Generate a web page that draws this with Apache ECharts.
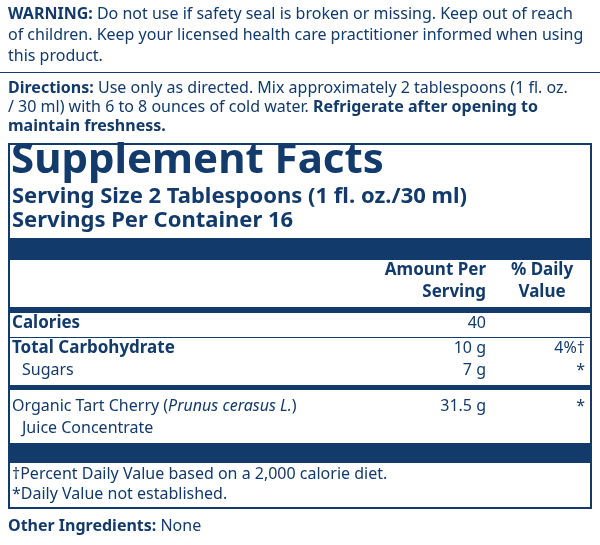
<!DOCTYPE html>
<html><head><meta charset="utf-8">
<script src="https://cdn.jsdelivr.net/npm/echarts@6/dist/echarts.min.js"></script>
<style>html,body{margin:0;padding:0;background:#fff}#c{width:600px;height:545px}</style>
</head><body><div id="c"></div>
<script>
const NAVY = '#123a6b';
const FONT = '"Noto Sans", sans-serif';

const warningLines = [
  [['b', 'WARNING:'], ['n', ' Do not use if safety seal is broken or missing. Keep out of reach']],
  [['n', 'of children. Keep your licensed health care practitioner informed when using']],
  [['n', 'this product.']]
];
const directionLines = [
  [['b', 'Directions:'], ['n', ' Use only as directed. Mix approximately 2 tablespoons (1 fl. oz.']],
  [['n', '/ 30 ml) with 6 to 8 ounces of cold water. '], ['b', 'Refrigerate after opening to']],
  [['b', 'maintain freshness.']]
];
const rowLabels = ['Calories', 'Total Carbohydrate', 'Sugars', 'Organic Tart Cherry'];
const rowAmounts = ['40', '10 g', '7 g', '31.5 g'];
const rowDV = ['', '4%\u2020', '*', '*'];
const footnotes = ['\u2020Percent Daily Value based on a 2,000 calorie diet.', '*Daily Value not established.'];

function richLine(parts, x, y, size) {
  return {
    type: 'text', left: x, top: y,
    style: {
      text: parts.map(p => '{' + p[0] + '|' + p[1] + '}').join(''),
      rich: {
        b: { fontFamily: FONT, fontSize: size, fontWeight: 'bold', fill: NAVY },
        n: { fontFamily: FONT, fontSize: size, fill: NAVY },
        i: { fontFamily: FONT, fontSize: size, fontStyle: 'italic', fill: NAVY }
      }
    }
  };
}
function txt(s, x, y, size, opts) {
  return { type: 'text', left: x, top: y, style: Object.assign({ text: s, fontFamily: FONT, fontSize: size, fill: NAVY }, opts || {}) };
}
function rtxt(s, xr, y, size, opts) {
  return { type: 'text', x: xr, y: y, style: Object.assign({ text: s, fontFamily: FONT, fontSize: size, fill: NAVY, align: 'right', verticalAlign: 'top' }, opts || {}) };
}
function ctxt(s, xc, y, size, opts) {
  return { type: 'text', x: xc, y: y, style: Object.assign({ text: s, fontFamily: FONT, fontSize: size, fill: NAVY, align: 'center', verticalAlign: 'top' }, opts || {}) };
}
function bar(y, h) {
  return { type: 'rect', shape: { x: 9, y: y, width: 582, height: h }, style: { fill: NAVY } };
}

const els = [];
warningLines.forEach((l, i) => els.push(richLine(l, 8, 6 + i * 21, 16)));
els.push({ type: 'rect', shape: { x: 0, y: 72, width: 600, height: 1 }, style: { fill: NAVY } });
directionLines.forEach((l, i) => els.push(richLine(l, 8, 80 + i * 19, 16)));
els.push({ type: 'rect', shape: { x: 9, y: 144, width: 582, height: 364 }, style: { fill: 'none', stroke: NAVY, lineWidth: 2 } });
els.push(txt('Supplement Facts', 11, 140, 42, { fontWeight: 'bold' }));
els.push(txt('Serving Size 2 Tablespoons (1 fl. oz./30 ml)', 12, 186, 22, { fontWeight: 'bold' }));
els.push(txt('Servings Per Container 16', 12, 210, 22, { fontWeight: 'bold' }));
els.push(bar(238, 22));
els.push(rtxt('Amount Per', 486, 262, 17, { fontWeight: 'bold' }));
els.push(rtxt('Serving', 486, 284, 17, { fontWeight: 'bold' }));
els.push(ctxt('% Daily', 542, 262, 17, { fontWeight: 'bold' }));
els.push(ctxt('Value', 542, 284, 17, { fontWeight: 'bold' }));
els.push(bar(307, 6));

const rowY = [315, 340, 362, 398];
rowLabels.forEach((lab, i) => {
  const bold = i < 2;
  const x = i === 2 ? 22 : 12;
  if (i === 3) {
    els.push(richLine([['n', lab + ' ('], ['i', 'Prunus cerasus L.'], ['n', ')']], x, rowY[i], 16));
    els.push(txt('Juice Concentrate', 22, rowY[i] + 22, 16));
  } else {
    els.push(txt(lab, x, rowY[i], bold ? 17 : 16, bold ? { fontWeight: 'bold' } : {}));
  }
  els.push(rtxt(rowAmounts[i], 486, rowY[i], 16));
  els.push(rtxt(rowDV[i], 585, rowY[i], 16));
});
els.push({ type: 'rect', shape: { x: 9, y: 337, width: 582, height: 1 }, style: { fill: NAVY } });
els.push(bar(385, 5));
els.push(bar(443, 20));
footnotes.forEach((f, i) => els.push(txt(f, 12, 466 + i * 20, 16)));
els.push(richLine([['b', 'Other Ingredients:'], ['n', ' None']], 8, 518, 16));

const chart = echarts.init(document.getElementById('c'));
chart.setOption({ backgroundColor: '#fff', graphic: { elements: els } });
</script></body></html>
